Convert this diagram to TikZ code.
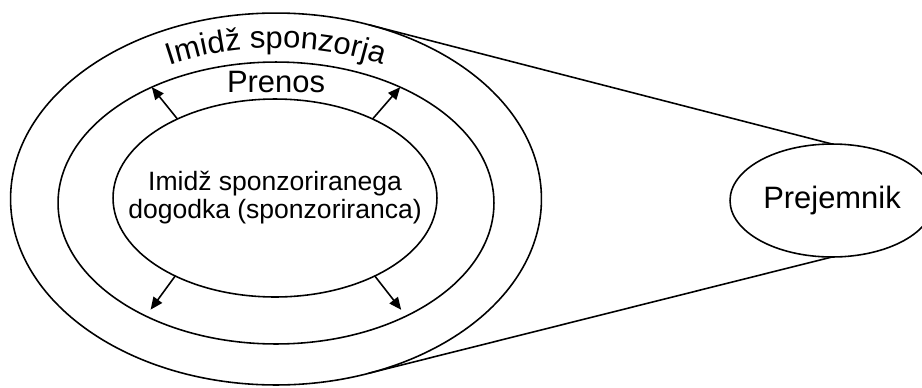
\documentclass[tikz,border=0pt]{standalone}
\usepackage{fontspec}
\setmainfont{Liberation Sans}
\usetikzlibrary{arrows.meta,calc,shapes.geometric,decorations.text}

\begin{document}
\begin{tikzpicture}[x=0.02cm, y=0.02cm, >={Triangle[length=7pt, width=6pt]},
  ring/.style={draw, ellipse, line width=0.9pt, inner sep=0pt, outer sep=0pt},
  bigtext/.style={font=\fontsize{17.6}{21}\selectfont}]
\useasboundingbox (0,0) rectangle (922,387);

\node[ring, minimum width=10.62cm, minimum height=7.44cm] (outer) at (276,188) {};
\node[ring, minimum width=8.72cm, minimum height=5.64cm] (mid) at (276,184) {};
\node[ring, minimum width=6.48cm, minimum height=3.96cm] (image) at (275,189) {};
\node[ring, minimum width=4.08cm, minimum height=2.26cm, bigtext] (recv) at (832,186.5) {Prejemnik};

\node[align=center, font=\fontsize{15.1}{15.9}\selectfont] (imagetext) at (image.center) {Imidž sponzoriranega\\dogodka (sponzoriranca)};
\node[bigtext, anchor=base] (transfer) at (276,295) {Prenos};
\path[decorate, decoration={text along path, text align=center,
  text={|\fontsize{17.6}{21}\selectfont|Imidž sponzorja}}]
  ($(mid.center)+(150:233 and 155)$) arc[start angle=150, end angle=30, x radius=233, y radius=155];

\draw[->, line width=0.9pt] (image.141) -- (mid.137);
\draw[->, line width=0.9pt] (image.39) -- (mid.43);
\draw[->, line width=0.9pt, shorten >=0.16cm] (image.218) -- (mid.221);
\draw[->, line width=0.9pt, shorten >=0.16cm] (image.322) -- (mid.319);

\draw[line width=0.9pt] (outer.62.5) -- (recv.north);
\draw[line width=0.9pt] (outer.-62.5) -- (recv.south);
\end{tikzpicture}
\end{document}
